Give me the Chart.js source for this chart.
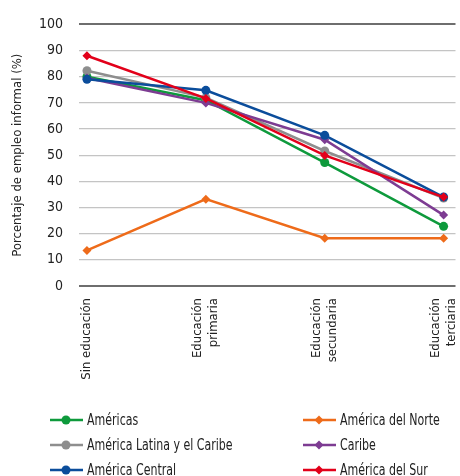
<!DOCTYPE html>
<html>
<head>
<meta charset="utf-8">
<script src="https://cdn.jsdelivr.net/npm/chart.js@4"></script>
<style>
  body { margin: 0; background: #fff; }
  #wrap { position: relative; width: 460px; height: 476px; overflow: hidden; }
  #chart-box { position: absolute; left: 0; top: 0; width: 460px; height: 400px; }
  #legend { position: absolute; left: 0; top: 0; width: 460px; height: 476px; pointer-events: none;
    font-family: "DejaVu Sans Condensed", sans-serif; font-size: 15.5px; color: #222; }
  .item { position: absolute; height: 20px; line-height: 20px; white-space: nowrap; }
  .item svg { position: absolute; left: 0; top: 2px; }
  .item span { position: absolute; left: 37px; top: 0; transform: scaleX(0.79); transform-origin: 0 50%; }
</style>
</head>
<body>
<div id="wrap">
  <div id="chart-box"><canvas id="myChart"></canvas></div>
  <div id="legend"></div>
</div>
<script>
  const categories = ['Sin educación', ['Educación', 'primaria'], ['Educación', 'secundaria'], ['Educación', 'terciaria']];

  const americas      = [80, 71, 47.2, 22.8];
  const norte         = [13.6, 33.2, 18.3, 18.3];
  const latinaCaribe  = [82.3, 72, 51.6, 33.6];
  const caribe        = [79.5, 70, 55.9, 27.1];
  const central       = [79, 74.8, 57.6, 34];
  const sur           = [88, 71.7, 49.9, 34];

  const seriesNames = ['Américas', 'América del Norte', 'América Latina y el Caribe', 'Caribe', 'América Central', 'América del Sur'];
  const yTicks = [0, 10, 20, 30, 40, 50, 60, 70, 80, 90, 100];

  const font = "'DejaVu Sans Condensed', sans-serif";

  function points(values) {
    return values.map((v, i) => ({ x: i, y: v }));
  }

  const series = [
    { label: seriesNames[0], values: americas,     color: '#0e9a3c', style: 'circle',  order: 4 },
    { label: seriesNames[1], values: norte,        color: '#ee6b1a', style: 'rectRot', order: 5 },
    { label: seriesNames[2], values: latinaCaribe, color: '#8e8e8e', style: 'circle',  order: 3 },
    { label: seriesNames[3], values: caribe,       color: '#7d3c92', style: 'rectRot', order: 2 },
    { label: seriesNames[4], values: central,      color: '#0b4d9b', style: 'circle',  order: 1 },
    { label: seriesNames[5], values: sur,          color: '#e2001a', style: 'rectRot', order: 0 }
  ];

  // two-line labels are centred on their category (chart.js starts the first line at the tick)
  const labelShift = 0.066;

  const ctx = document.getElementById('myChart');

  new Chart(ctx, {
    type: 'line',
    data: {
      datasets: series.map(s => ({
        label: s.label,
        data: points(s.values),
        borderColor: s.color,
        backgroundColor: s.color,
        borderWidth: 2.5,
        pointStyle: s.style,
        pointRadius: 4.5,
        pointBorderWidth: 0,
        tension: 0,
        order: s.order
      }))
    },
    options: {
      responsive: true,
      maintainAspectRatio: false,
      animation: false,
      layout: { padding: { top: 22, right: 3, left: 10, bottom: 0 } },
      plugins: { legend: { display: false }, tooltip: { enabled: false } },
      scales: {
        x: {
          type: 'linear',
          min: -0.067,
          max: 3.1,
          afterBuildTicks: scale => {
            scale.ticks = categories.map((c, i) => ({ value: Array.isArray(c) ? i - labelShift : i }));
          },
          afterFit: scale => { scale.height = 114; scale.paddingLeft = 0; scale.paddingRight = 0; },
          grid: { display: false },
          border: { display: false },
          ticks: {
            autoSkip: false,
            maxRotation: 90,
            minRotation: 90,
            padding: 4,
            color: '#222',
            font: { family: font, size: 13 },
            callback: v => categories[Math.round(v)]
          }
        },
        y: {
          min: 0,
          max: 100,
          afterBuildTicks: scale => { scale.ticks = yTicks.map(v => ({ value: v })); },
          afterFit: scale => { scale.width = 69; },
          border: { display: false },
          grid: {
            drawTicks: false,
            color: c => (c.tick.value === 0 || c.tick.value === 100) ? '#6e6e6e' : '#c4c4c4',
            lineWidth: c => (c.tick.value === 0 || c.tick.value === 100) ? 2 : 1.2
          },
          ticks: {
            padding: 16,
            color: '#222',
            font: { family: font, size: 14 }
          },
          title: {
            display: true,
            text: 'Porcentaje de empleo informal (%)',
            color: '#222',
            padding: 0,
            font: { family: font, size: 13 }
          }
        }
      }
    }
  });

  // legend, two columns
  const legendPos = [
    [50, 410], [303, 410],
    [50, 435], [303, 435],
    [50, 460], [303, 460]
  ];
  const legend = document.getElementById('legend');
  series.forEach((s, i) => {
    const div = document.createElement('div');
    div.className = 'item';
    div.style.left = legendPos[i][0] + 'px';
    div.style.top = legendPos[i][1] + 'px';
    const marker = s.style === 'circle'
      ? `<circle cx="16" cy="8" r="4.5" fill="${s.color}"/>`
      : `<polygon points="16,3.5 20.5,8 16,12.5 11.5,8" fill="${s.color}"/>`;
    div.innerHTML = `<svg width="33" height="16"><line x1="0" y1="8" x2="33" y2="8" stroke="${s.color}" stroke-width="2.5"/>${marker}</svg><span>${s.label}</span>`;
    legend.appendChild(div);
  });
</script>
</body>
</html>
